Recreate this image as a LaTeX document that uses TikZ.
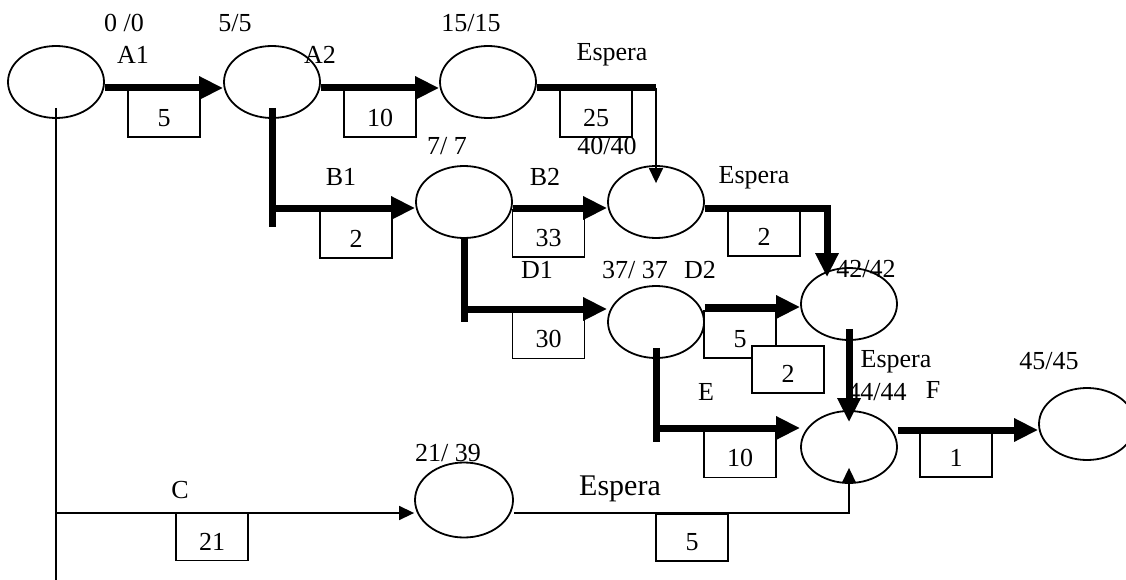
\documentclass[tikz,border=0pt]{standalone}
\usepackage{fontspec}
\setmainfont{Liberation Serif}
\usetikzlibrary{arrows.meta,shapes.geometric}
\tikzset{
  node-event/.style={draw,line width=1.8pt,ellipse,minimum width=96pt,
    minimum height=72pt,inner sep=0pt},
  node-dur/.style={draw,line width=1.4pt,fill=white,minimum width=72pt,
    minimum height=47pt,inner sep=0pt,text height=26pt},
  node-lbl/.style={inner sep=0pt},
  line-crit/.style={line width=7pt},
  arrow-crit/.style={-{Triangle[length=24pt,width=22pt]},line width=7pt},
  line-free/.style={line width=1.5pt},
  arrow-free/.style={-{Triangle[length=15pt,width=14pt]},line width=1.5pt},
}

\begin{document}
\begin{tikzpicture}[x=1pt,y=-1pt,every node/.style={font=\fontsize{26}{28}\selectfont}]
  \useasboundingbox (0,0) rectangle (1126,580);
  \clip (0,0) rectangle (1126,580);
  % events
  \node[node-event] (e0) at (56,82) {};
  \node[node-event] (e5) at (272,82) {};
  \node[node-event] (e15) at (488,82) {};
  \node[node-event] (e7) at (464,202) {};
  \node[node-event] (e40) at (656,202) {};
  \node[node-event] (e37) at (656,322) {};
  \node[node-event] (e42) at (849,304) {};
  \node[node-event] (e44) at (849,447) {};
  \node[node-event,minimum width=98pt,minimum height=75pt] (e21) at (464,500) {};
  \node[node-event] (e45) at (1087,424) {};
  % times
  \node[node-lbl] (t0) at (124,23) {0 /0};
  \node[node-lbl] (t5) at (235,23) {5/5};
  \node[node-lbl] (t15) at (471,23) {15/15};
  \node[node-lbl] (t7) at (447,146) {7/ 7};
  \node[node-lbl] (t40) at (607,146) {40/40};
  \node[node-lbl] (t37) at (635,270) {37/ 37};
  \node[node-lbl] (t42) at (866,269) {42/42};
  \node[node-lbl] (t44) at (877,392) {44/44};
  \node[node-lbl] (t45) at (1049,361) {45/45};
  \node[node-lbl] (t21) at (448,453) {21/ 39};
  % activities
  \node[node-lbl] (lA1) at (133,55) {A1};
  \node[node-lbl] (lA2) at (320,55) {A2};
  \node[node-lbl] (lW1) at (612,55) {Espera};
  \node[node-lbl] (lB1) at (341,177) {B1};
  \node[node-lbl] (lB2) at (545,177) {B2};
  \node[node-lbl] (lW2) at (754,178) {Espera};
  \node[node-lbl] (lD1) at (537,270) {D1};
  \node[node-lbl] (lD2) at (700,270) {D2};
  \node[node-lbl] (lW3) at (896,362) {Espera};
  \node[node-lbl] (lE) at (706,392) {E};
  \node[node-lbl] (lF) at (933,390) {F};
  \node[node-lbl] (lC) at (180,490) {C};
  \node[node-lbl,font=\fontsize{30}{32}\selectfont] (lW4) at (620,489) {Espera};
  % durations
  \node[node-dur] (dA1) at (164,113.5) {5};
  \node[node-dur] (dA2) at (380,113.5) {10};
  \node[node-dur] (dW1) at (596,113.5) {25};
  \node[node-dur] (dB1) at (356,234.5) {2};
  \node[node-dur] (dB2) at (548.5,233.5) {33};
  \node[node-dur] (dW2) at (764,232.5) {2};
  \node[node-dur] (dD1) at (548.5,335) {30};
  \node[node-dur] (dD2) at (740,334.5) {5};
  \node[node-dur] (dX) at (788,369.5) {2};
  \node[node-dur] (dE) at (740,454) {10};
  \node[node-dur] (dF) at (956,453.5) {1};
  \node[node-dur] (dC) at (212,537) {21};
  \node[node-dur] (dW4) at (692,537.5) {5};
  % critical path
  \draw[arrow-crit] ([yshift=-6pt]e0.east) -- ([yshift=-6pt]e5.west);
  \draw[arrow-crit] ([yshift=-6pt]e5.east) -- ([yshift=-6pt]e15.west);
  \coordinate (w1) at (656,88);
  \draw[line-crit] ([yshift=-6pt]e15.east) -- (w1);
  \draw[arrow-free] (w1) -- ([yshift=-18pt]e40.north);
  \coordinate (b1e) at (272,227);
  \coordinate (b1k) at (272,208);
  \draw[line-crit] ([yshift=11pt]e5.south) -- (b1e);
  \draw[arrow-crit] (b1k) -- (b1k -| e7.west);
  \draw[arrow-crit] ([yshift=-6pt]e7.east) -- ([yshift=-6pt]e40.west);
  \draw[arrow-crit] ([yshift=-6pt]e40.east) -| ([xshift=-22pt,yshift=-10pt]e42.north);
  \coordinate (d1e) at (464,322);
  \coordinate (d1k) at (464,309);
  \draw[line-crit] (e7.south) -- (d1e);
  \draw[arrow-crit] (d1k) -- (d1k -| e37.west);
  \draw[arrow-crit] ([yshift=15pt]e37.east) -- ([yshift=-3pt]e42.west);
  \draw[arrow-crit] ([yshift=12pt]e42.south) -- ([yshift=-12pt]e44.north);
  \coordinate (ee) at (656,442);
  \coordinate (ek) at (656,428);
  \draw[line-crit] ([yshift=11pt]e37.south) -- (ee);
  \draw[arrow-crit] (ek) -- (ek -| e44.west);
  \coordinate (fk) at ([yshift=17pt]e44.east);
  \draw[arrow-crit] (fk) -- (fk -| e45.west);
  % C branch
  \coordinate (cbot) at (56,580);
  \coordinate (ck) at (56,513);
  \draw[line-free] ([yshift=11pt]e0.south) -- (cbot);
  \draw[arrow-free] (ck) -- (ck -| e21.west);
  \draw[arrow-free] (ck -| e21.east) -| ([yshift=16pt]e44.south);
\end{tikzpicture}
\end{document}
